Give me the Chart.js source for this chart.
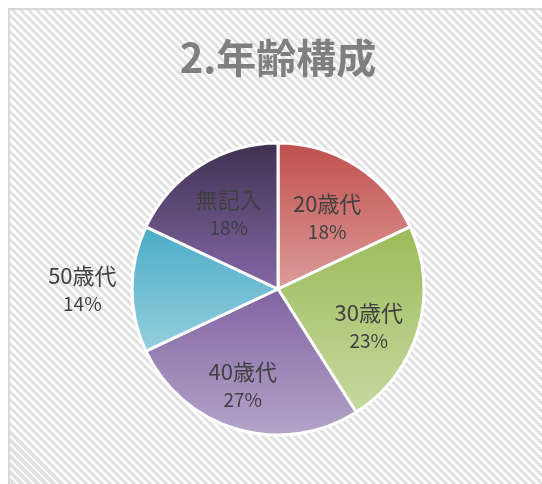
<!DOCTYPE html>
<html>
<head>
<meta charset="utf-8">
<script src="https://cdn.jsdelivr.net/npm/chart.js@4/dist/chart.umd.min.js"></script>
<style>
html, body { margin: 0; padding: 0; overflow: hidden; background: #fff; }
#wrap {
    position: absolute; left: 8px; top: 8px;
    width: 536px; height: 500px;
    border: 2px solid #d9d9d9;
    background: repeating-linear-gradient(45deg, #fcfcfc 0 2.8px, #e1e1e1 2.8px 5.66px);
}
canvas { display: block; }
</style>
</head>
<body>
<div id="wrap"><canvas id="ageChart" width="536" height="500"></canvas></div>
<script>
// --- data ---
const categories = ["20歳代", "30歳代", "40歳代", "50歳代", "無記入"];
const percents = [18, 23, 27, 14, 18];
const topColors = ["#c0504d", "#9bbb59", "#8064a2", "#4bacc6", "#3f3151"];
const bottomColors = ["#dc9c9a", "#c6d9a0", "#b5a4c9", "#95cfdf", "#8468a6"];

// vertical gradient per slice, from the slice's own top to bottom
function sliceGradient(context) {
    const chart = context.chart;
    const area = chart.chartArea;
    const i = context.dataIndex;
    if (!area) return topColors[i];
    const cx = (area.left + area.right) / 2;
    const cy = (area.top + area.bottom) / 2;
    const r = (Math.min(area.right - area.left, area.bottom - area.top) - 3) / 2;
    const total = percents.reduce((a, b) => a + b, 0);
    let before = 0;
    for (let k = 0; k < i; k++) before += percents[k];
    const a0 = -Math.PI / 2 + 2 * Math.PI * before / total;
    const a1 = a0 + 2 * Math.PI * percents[i] / total;
    let ys = [cy, cy + r * Math.sin(a0), cy + r * Math.sin(a1)];
    [-Math.PI / 2, Math.PI / 2, 3 * Math.PI / 2].forEach(a => {
        if (a >= a0 && a <= a1) ys.push(cy + r * Math.sin(a));
    });
    const y0 = Math.min(...ys), y1 = Math.max(...ys);
    const g = chart.ctx.createLinearGradient(0, y0, 0, y1);
    g.addColorStop(0, topColors[i]);
    g.addColorStop(1, bottomColors[i]);
    return g;
}

// category + percent labels
const sliceLabels = {
    id: 'sliceLabels',
    afterDatasetsDraw(chart, args, opts) {
        const ctx = chart.ctx;
        const meta = chart.getDatasetMeta(0);
        meta.data.forEach((arc, i) => {
            const mid = (arc.startAngle + arc.endAngle) / 2 + opts.turn[i];
            const r = arc.outerRadius * opts.radial[i];
            const x = arc.x + Math.cos(mid) * r;
            const y = arc.y + Math.sin(mid) * r;
            ctx.save();
            ctx.fillStyle = '#404040';
            ctx.textAlign = 'center';
            ctx.textBaseline = 'middle';
            ctx.font = '22px "Noto Sans CJK JP"';
            ctx.fillText(categories[i], x, y - 13);
            ctx.font = '19px "Noto Sans CJK JP"';
            ctx.fillText(percents[i] + '%', x, y + 15);
            ctx.restore();
        });
    }
};

new Chart(document.getElementById('ageChart'), {
    type: 'pie',
    data: {
        labels: categories,
        datasets: [{
            data: percents,
            backgroundColor: sliceGradient,
            borderColor: '#ffffff',
            borderWidth: 3
        }]
    },
    options: {
        responsive: false,
        animation: false,
        events: [],
        layout: { padding: { bottom: 73.5 } },
        plugins: {
            legend: { display: false },
            tooltip: { enabled: false },
            title: {
                display: true,
                text: '2.年齢構成',
                color: '#7f7f7f',
                font: { family: '"Noto Sans CJK JP"', size: 40, weight: 'bold' },
                padding: { top: 24, bottom: 59.5 }
            },
            sliceLabels: {
                radial: [0.6, 0.67, 0.7, 1.34, 0.62],
                turn: [0.03, 0.1, 0.07, 0, -0.01]
            }
        }
    },
    plugins: [sliceLabels]
});
</script>
</body>
</html>
